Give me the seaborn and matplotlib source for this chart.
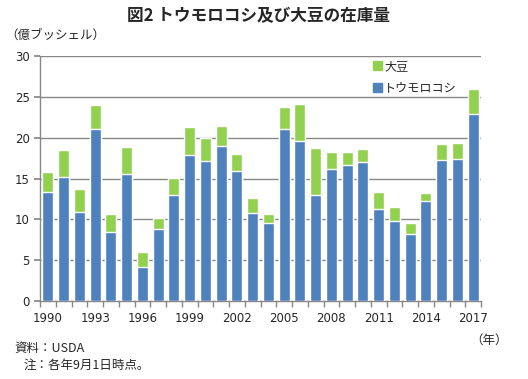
import numpy as np
import pandas as pd
import matplotlib
matplotlib.use("Agg")
import matplotlib.pyplot as plt
import seaborn as sns
from matplotlib.patches import Patch

years = list(range(1990, 2018))
corn = [13.4, 15.2, 10.9, 21.1, 8.5, 15.6, 4.2, 8.8, 13.0, 17.9, 17.1, 19.0, 15.9, 10.8, 9.6,
        21.1, 19.6, 13.0, 16.2, 16.7, 17.0, 11.3, 9.8, 8.2, 12.3, 17.3, 17.4, 22.9]
soy = [2.4, 3.3, 2.8, 2.9, 2.1, 3.3, 1.8, 1.4, 2.1, 3.4, 2.9, 2.4, 2.1, 1.8, 1.1,
       2.6, 4.5, 5.7, 2.1, 1.5, 1.6, 2.1, 1.7, 1.4, 0.9, 1.9, 1.9, 3.1]
series_names = ["大豆", "トウモロコシ"]
tick_labels = [str(y) if (y - 1990) % 3 == 0 else "" for y in years]

sns.set_theme(style="white")
plt.rcParams['font.family'] = ['Noto Sans CJK JP', 'DejaVu Sans']

df = pd.DataFrame({"year": [str(y) for y in years], "corn": corn, "soy": soy})
df["total"] = df["corn"] + df["soy"]

blue = "#4F81BD"
green = "#92D050"

fig = plt.figure(figsize=(5.28, 3.79), dpi=100)
ax = fig.add_axes([40/528, 1 - 301/379, 441/528, 245/379])

sns.barplot(data=df, x="year", y="total", color=green, saturation=1, width=0.7, ax=ax, zorder=3)
sns.barplot(data=df, x="year", y="corn", color=blue, saturation=1, width=0.7, ax=ax, zorder=3)

ax.set_ylim(0, 30)
ax.set_xlim(-0.5, len(years) - 0.5)
ax.set_yticks(range(0, 31, 5))
ax.yaxis.grid(True, color="#888888", linewidth=1, zorder=0)
ax.set_axisbelow(True)
ax.set_xlabel("")
ax.set_ylabel("")
ax.set_xticks(range(len(years)))
ax.set_xticklabels(tick_labels, fontsize=8.5, fontfamily=['DejaVu Sans'])
ax.set_xticks(np.arange(-0.5, len(years), 1.0), minor=True)
ax.tick_params(axis="x", which="major", length=0, pad=8)
ax.tick_params(axis="x", which="minor", length=4, color="#888888", direction="out", bottom=True)
ax.tick_params(axis="y", length=4, color="#888888", labelsize=8.5, left=True, direction="out")
for lbl in ax.get_yticklabels():
    lbl.set_fontfamily(['DejaVu Sans'])
for s in ["top", "right"]:
    ax.spines[s].set_visible(False)
for s in ["left", "bottom"]:
    ax.spines[s].set_color("#888888")
    ax.spines[s].set_linewidth(1)

handles = [Patch(color=green), Patch(color=blue)]
ax.legend(handles, series_names, loc="upper left", bbox_to_anchor=(0.755, 0.985), frameon=False,
          fontsize=8.7, handlelength=0.75, handleheight=0.75, handletextpad=0.2, labelspacing=0.75,
          borderpad=0, borderaxespad=0)

fig.text(0.49, 1 - 16/379, "図2 トウモロコシ及び大豆の在庫量", ha="center", va="center",
         fontsize=12, fontweight="bold")
fig.text(5/528, 1 - 35/379, "（億ブッシェル）", ha="left", va="center", fontsize=9)
fig.text(508/528, 1 - 340/379, "（年）", ha="right", va="center", fontsize=9)
fig.text(14/528, 1 - 348/379, "資料：USDA", ha="left", va="center", fontsize=9)
fig.text(24/528, 1 - 365/379, "注：各年9月1日時点。", ha="left", va="center", fontsize=9)

fig.savefig("out.png", dpi=100)
